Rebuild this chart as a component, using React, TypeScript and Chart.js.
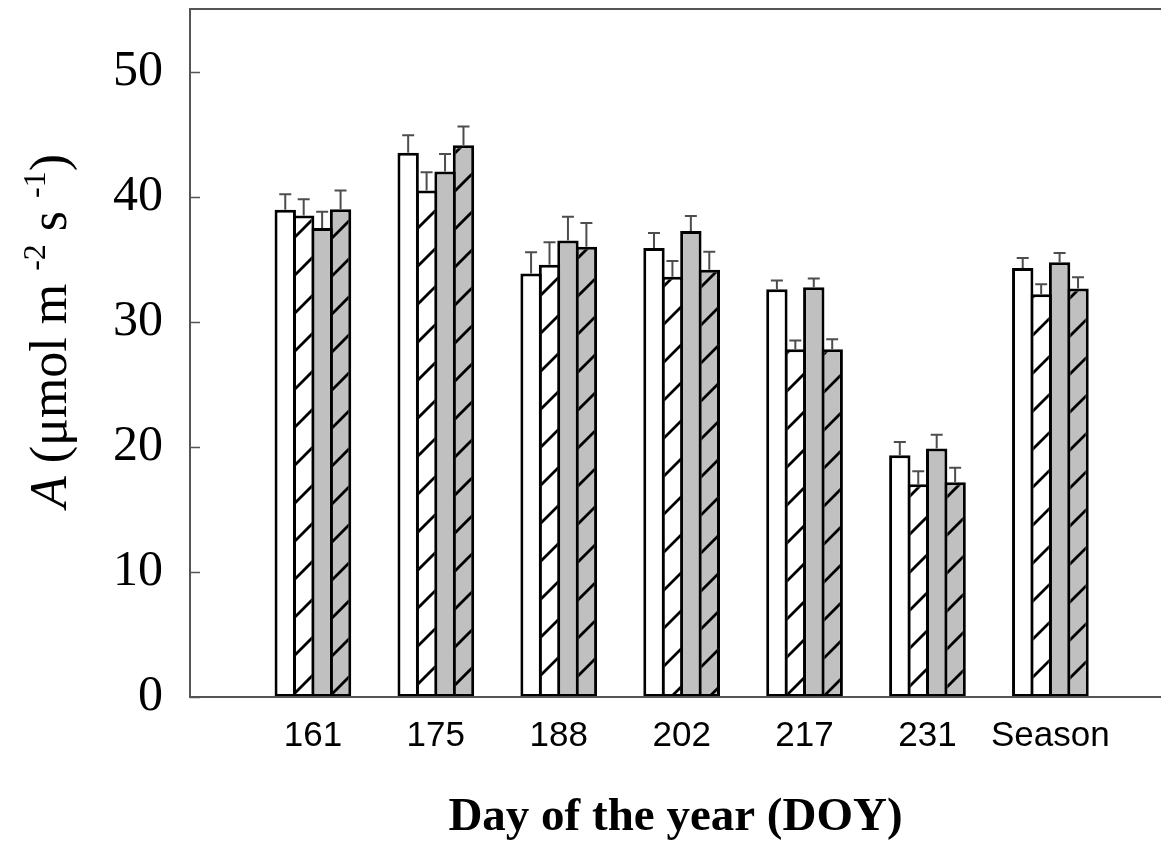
import React, { useEffect, useRef } from 'react';
import { Chart, registerables } from 'chart.js';

Chart.register(...registerables);

// ---- data ----
const categories = ['161', '175', '188', '202', '217', '231', 'Season'];
const yTickValues = [0, 10, 20, 30, 40, 50];

const series1 = [38.95, 43.5, 33.85, 35.9, 32.6, 19.33, 34.3];
const series2 = [38.5, 40.5, 34.55, 33.6, 27.8, 17.0, 32.2];
const series3 = [37.5, 42.0, 36.5, 37.25, 32.75, 19.86, 34.75];
const series4 = [39.0, 44.1, 36.0, 34.15, 27.8, 17.17, 32.65];

const err1 = [1.25, 1.4, 1.7, 1.2, 0.7, 1.05, 0.8];
const err2 = [1.3, 1.45, 1.8, 1.25, 0.7, 1.05, 0.8];
const err3 = [1.3, 1.4, 1.9, 1.2, 0.7, 1.1, 0.75];
const err4 = [1.5, 1.5, 1.9, 1.45, 0.8, 1.15, 0.9];

const errors = [err1, err2, err3, err4];

const SERIF = '"Liberation Serif", "Times New Roman", serif';
const SANS = '"Liberation Sans", Arial, sans-serif';
const AXIS = '#555555';
const GRAY = '#c0c0c0';

function makeHatch(bg: string): CanvasPattern | string {
  const s = 38;
  const c = document.createElement('canvas');
  c.width = s;
  c.height = s;
  const g = c.getContext('2d');
  if (!g) return bg;
  g.fillStyle = bg;
  g.fillRect(0, 0, s, s);
  g.strokeStyle = '#000';
  g.lineWidth = 2.8;
  g.beginPath();
  g.moveTo(-3, s + 3);
  g.lineTo(s + 3, -3);
  g.moveTo(-3, 3);
  g.lineTo(3, -3);
  g.moveTo(s - 3, s + 3);
  g.lineTo(s + 3, s - 3);
  g.stroke();
  return g.createPattern(c, 'repeat') || bg;
}

const framePlugin = {
  id: 'frameAndTitles',
  afterDatasetsDraw(chart: any) {
    const ctx = chart.ctx as CanvasRenderingContext2D;
    const ys = chart.scales.y;
    ctx.save();
    ctx.strokeStyle = '#4d4d4d';
    ctx.lineWidth = 2;
    chart.data.datasets.forEach((ds: any, di: number) => {
      const meta = chart.getDatasetMeta(di);
      const errs = errors[di];
      meta.data.forEach((el: any, i: number) => {
        const v = ds.data[i].y;
        const yTop = ys.getPixelForValue(v + errs[i]);
        const yBase = ys.getPixelForValue(v);
        ctx.beginPath();
        ctx.moveTo(el.x, yBase);
        ctx.lineTo(el.x, yTop);
        ctx.moveTo(el.x - 6, yTop);
        ctx.lineTo(el.x + 6, yTop);
        ctx.stroke();
      });
    });
    ctx.restore();
  },
  afterDraw(chart: any) {
    const ctx = chart.ctx as CanvasRenderingContext2D;
    const { left, right, top, bottom } = chart.chartArea;
    const ys = chart.scales.y;
    ctx.save();
    // axes + top frame
    ctx.strokeStyle = AXIS;
    ctx.lineWidth = 2;
    ctx.beginPath();
    ctx.moveTo(right + 5, top);
    ctx.lineTo(left, top);
    ctx.lineTo(left, bottom);
    ctx.lineTo(right + 5, bottom);
    ctx.stroke();
    // inner ticks on y axis
    ctx.lineWidth = 1.5;
    ctx.beginPath();
    yTickValues.forEach((v) => {
      const y = Math.round(ys.getPixelForValue(v)) + 0.5;
      ctx.moveTo(left, y);
      ctx.lineTo(left + 10, y);
    });
    ctx.stroke();

    // x title
    ctx.fillStyle = '#000';
    ctx.font = `bold 47px ${SERIF}`;
    ctx.textAlign = 'center';
    ctx.textBaseline = 'alphabetic';
    ctx.fillText('Day of the year (DOY)', (left + right) / 2, 830);

    // y title (rotated, with superscripts)
    const big = 52;
    const small = 32;
    const parts = [
      { t: 'A', f: `italic ${big}px ${SERIF}`, dy: 0 },
      { t: ' (μmol m ', f: `${big}px ${SERIF}`, dy: 0 },
      { t: '-2', f: `${small}px ${SERIF}`, dy: -21 },
      { t: ' s ', f: `${big}px ${SERIF}`, dy: 0 },
      { t: '-1', f: `${small}px ${SERIF}`, dy: -21 },
      { t: ')', f: `${big}px ${SERIF}`, dy: 0 },
    ];
    let total = 0;
    const widths = parts.map((p) => {
      ctx.font = p.f;
      const w = ctx.measureText(p.t).width;
      total += w;
      return w;
    });
    ctx.translate(66, 331);
    ctx.rotate(-Math.PI / 2);
    ctx.textAlign = 'left';
    let x = -total / 2;
    parts.forEach((p, i) => {
      ctx.font = p.f;
      ctx.fillText(p.t, x, p.dy);
      x += widths[i];
    });
    ctx.restore();
  },
};

export default function App() {
  const ref = useRef<HTMLCanvasElement | null>(null);

  useEffect(() => {
    document.body.style.margin = '0';
    const canvas = ref.current;
    if (!canvas) return;
    const hatchWhite = makeHatch('#ffffff');
    const hatchGray = makeHatch(GRAY);
    const mk = (vals: number[]) => vals.map((v, i) => ({ x: i + 1, y: v }));
    const common = {
      borderColor: '#000',
      borderWidth: 3,
      borderSkipped: false as const,
      categoryPercentage: 0.6,
      barPercentage: 1.16,
    };
    const zeroPad = (scale: any) => {
      scale.paddingTop = 0;
      scale.paddingBottom = 0;
      scale.paddingLeft = 0;
      scale.paddingRight = 0;
    };
    const chart = new Chart(canvas, {
      type: 'bar',
      data: {
        datasets: [
          { ...common, label: 's1', data: mk(series1), backgroundColor: '#ffffff' },
          { ...common, label: 's2', data: mk(series2), backgroundColor: hatchWhite as any },
          { ...common, label: 's3', data: mk(series3), backgroundColor: GRAY },
          { ...common, label: 's4', data: mk(series4), backgroundColor: hatchGray as any },
        ],
      },
      options: {
        animation: false,
        responsive: true,
        maintainAspectRatio: false,
        layout: { padding: { left: 0, right: 0, top: 9, bottom: 0 } },
        plugins: {
          legend: { display: false },
          tooltip: { enabled: false },
        },
        scales: {
          x: {
            type: 'linear',
            min: 0,
            max: 7.9,
            offset: false,
            grid: { display: false, drawTicks: false, offset: false },
            border: { display: false },
            afterBuildTicks: (scale: any) => {
              scale.ticks = categories.map((_, i) => ({ value: i + 1 }));
            },
            afterFit: (scale: any) => {
              scale.height = 145;
              zeroPad(scale);
            },
            ticks: {
              autoSkip: false,
              maxRotation: 0,
              padding: 18,
              color: '#000',
              font: { family: SANS, size: 35 },
              callback: (v: any) => categories[Number(v) - 1] ?? '',
            },
          },
          y: {
            min: 0,
            max: 55,
            grid: { display: false, drawTicks: false },
            border: { display: false },
            afterBuildTicks: (scale: any) => {
              scale.ticks = yTickValues.map((v) => ({ value: v }));
            },
            afterFit: (scale: any) => {
              scale.width = 190;
              zeroPad(scale);
            },
            ticks: {
              padding: 27,
              color: '#000',
              font: { family: SERIF, size: 50 },
            },
          },
        },
      },
      plugins: [framePlugin],
    });
    return () => chart.destroy();
  }, []);

  return (
    <div style={{ position: 'absolute', left: 0, top: 0, width: 1161, height: 842, background: '#fff' }}>
      <canvas ref={ref} />
    </div>
  );
}
